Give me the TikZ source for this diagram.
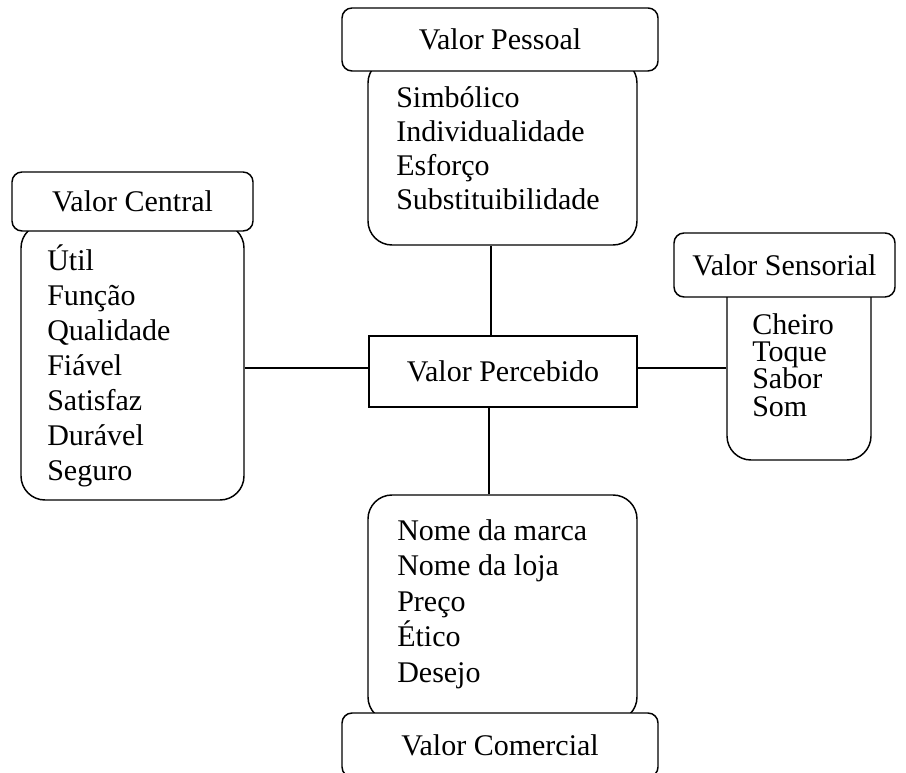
\documentclass[tikz,border=0pt]{standalone}
\usepackage{fontspec}
\setmainfont{Liberation Serif}
\usetikzlibrary{fit,calc}
\begin{document}
\begin{tikzpicture}[x=0.75pt,y=-0.75pt,
  every node/.style={font=\fontsize{22.5pt}{26pt}\selectfont},
  hdr/.style={draw, fill=white, line width=1.1pt, rounded corners=7.5pt, inner sep=0pt},
  bodybox/.style={draw, line width=1.1pt, rounded corners=18pt, inner sep=0pt},
  mainbox/.style={draw, fill=white, line width=1.1pt, inner sep=0pt},
  itemlist/.style={anchor=base west, align=left, inner sep=0pt},
  conn/.style={line width=1.1pt}]
\clip (0,0) rectangle (906,773);
% bodies
\node[bodybox, fit={(368,59) (637,245)}] (pb) {};
\node[bodybox, fit={(21,224) (244,500)}] (cbx) {};
\node[bodybox, fit={(727,270) (871,460)}] (sb) {};
\node[bodybox, fit={(368,495) (637,721)}] (mb) {};
% headers
\node[hdr, fit={(342,8) (658,71)}, label={center:Valor Pessoal}] (ph) {};
\node[hdr, fit={(12,172) (253,231)}, label={center:Valor Central}] (ch) {};
\node[hdr, fit={(674,233) (895,297)}, label={center:Valor Sensorial}] (sh) {};
\node[hdr, fit={(342,713) (658,777)}, label={center:Valor Comercial}] (mh) {};
% lists (base = baseline of last line)
\node[itemlist, font=\fontsize{22.5pt}{25.7pt}\selectfont] (pl) at (396,210)
  {Simbólico\\Individualidade\\Esforço\\Substituibilidade};
\node[itemlist, font=\fontsize{22.5pt}{26.25pt}\selectfont] (cl) at (47,480)
  {Útil\\Função\\Qualidade\\Fiável\\Satisfaz\\Durável\\Seguro};
\node[itemlist, font=\fontsize{22.5pt}{20.5pt}\selectfont] (sl) at (752,416)
  {Cheiro\\Toque\\Sabor\\Som};
\node[itemlist, font=\fontsize{22.5pt}{26.6pt}\selectfont] (ml) at (397,682)
  {Nome da marca\\Nome da loja\\Preço\\Ético\\Desejo};
% central
\node[mainbox, fit={(369,336) (637,407)}, label={center:Valor Percebido}] (pv) {};
% connectors
\draw[conn] ([xshift=-9pt]pv.north) -- ([xshift=-9pt]pv.north |- pb.south);
\draw[conn] ([xshift=-10.5pt]pv.south) -- ([xshift=-10.5pt]pv.south |- mb.north);
\draw[conn] ([yshift=2.6pt]pv.west) -- ([yshift=2.6pt]pv.west -| cbx.east);
\draw[conn] ([yshift=2.6pt]pv.east) -- ([yshift=2.6pt]pv.east -| sb.west);
\end{tikzpicture}
\end{document}
